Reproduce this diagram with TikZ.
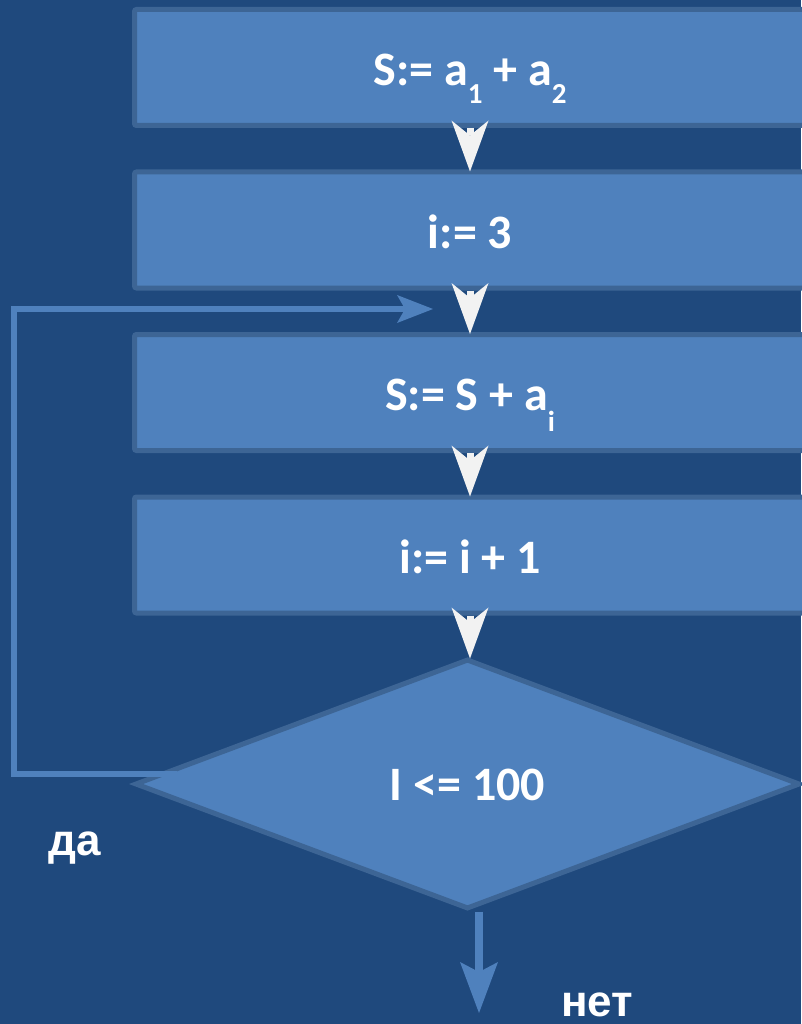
\documentclass[tikz,border=0pt]{standalone}
\usepackage{fontspec}
\setmainfont{Carlito}
\newfontfamily\cyrfont{Liberation Sans}
\usetikzlibrary{arrows.meta,shapes.geometric}

\definecolor{deep}{RGB}{31,73,125}
\definecolor{pale}{RGB}{79,129,189}
\definecolor{rim}{RGB}{61,101,149}
\definecolor{snow}{RGB}{242,242,242}

% lowered index, as in a_1
\newcommand{\lowsub}[2][18pt]{\raisebox{-#1}{\fontsize{29}{29}\selectfont #2}}

\begin{document}
\begin{tikzpicture}[x=1pt,y=-1pt,
	stepbox/.style={shape=rectangle,draw=rim,fill=pale,line width=5pt,rounded corners=2pt,
		minimum width=671pt,minimum height=116pt,inner sep=0pt,text=white,
		text height=36pt,text depth=0pt,font=\fontsize{48}{52}\selectfont\bfseries},
	cond/.style={shape=diamond,draw=rim,fill=pale,line width=5pt,
		minimum width=665pt,minimum height=250pt,inner sep=0pt,text=white,
		text height=33pt,text depth=0pt,font=\fontsize{48}{52}\selectfont\bfseries},
	answer/.style={anchor=base,inner sep=0pt,text=white,font=\cyrfont\fontsize{44}{48}\selectfont\bfseries},
	flow/.style={color=snow,line width=7pt,shorten >=-2pt,
		-{Stealth[length=51pt,width=37pt,inset=15pt,line width=0pt]}},
	loopline/.style={color=pale,line width=5.5pt,
		-{Stealth[length=36pt,width=28pt,inset=8pt,line width=0pt]}},
	outflow/.style={color=pale,line width=8pt,
		-{Stealth[length=51pt,width=38pt,inset=10pt,line width=0pt]}}]
	
	\fill[deep] (0,0) rectangle (801,1024);
	\useasboundingbox (0,0) rectangle (801,1024);
	
	\node[stepbox] (init)  at (470, 67.5)  {S:= a\lowsub{1} + a\lowsub{2}};
	\node[stepbox] (start) at (470, 230)   {i:= 3};
	\node[stepbox] (accum) at (470, 392.5) {S:= S + a\lowsub[21pt]{i}};
	\node[stepbox] (incr)  at (470, 555)   {i:= i + 1};
	\node[cond]    (check) at (467.5, 784) {I <= 100};
	
	\node[answer] (yes) at (74.5, 855) {да};
	\node[answer] (no)  at (597, 1016) {нет};
	
	\coordinate (entry) at (433, 309);
	\coordinate (exit)  at (479, 1013);
	
	\path[flow] (init)  edge (start);
	\path[flow] (start) edge (accum);
	\path[flow] (accum) edge (incr);
	\path[flow] (incr)  edge (incr.south |- check.north);
	
	% back to the sum while the test holds
	\draw[loopline] ([xshift=44.5pt,yshift=10pt]check.west) -- ++(-163,0) |- (entry);
	\draw[outflow] (check.south -| exit) -- (exit);
	
\end{tikzpicture}
\end{document}
